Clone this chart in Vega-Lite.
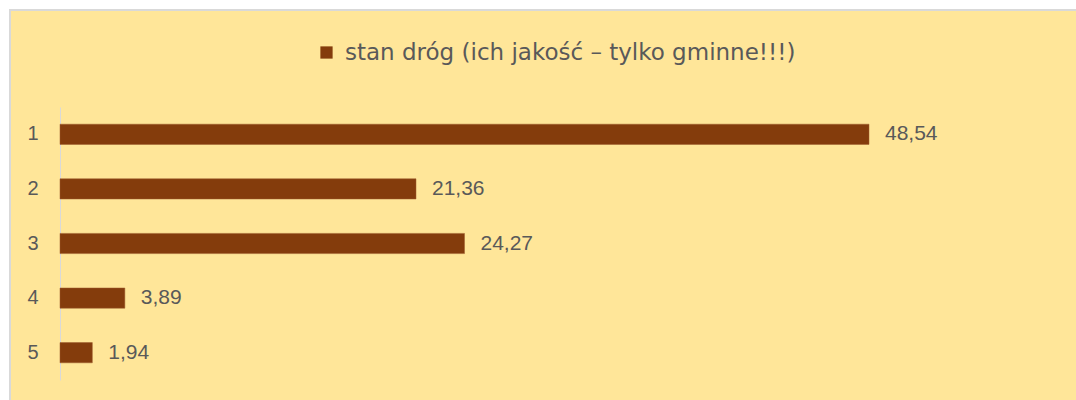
{
  "$schema": "https://vega.github.io/schema/vega-lite/v6.json",
  "width": 1070,
  "height": 395,
  "autosize": {"type": "none"},
  "padding": {"left": 10, "top": 10, "right": 0, "bottom": 0},
  "background": "#ffffff",
  "config": {
    "locale": {"number": {"decimal": ",", "thousands": " ", "grouping": [3], "currency": ["", " zł"]}},
    "view": {"fill": "#FFE699", "stroke": "#D9D9D9", "strokeWidth": 2},
    "font": "Liberation Sans"
  },
  "data": {
    "values": [
      {"kat": "1", "wartosc": 48.54, "seria": "stan dróg (ich jakość – tylko gminne!!!)"},
      {"kat": "2", "wartosc": 21.36, "seria": "stan dróg (ich jakość – tylko gminne!!!)"},
      {"kat": "3", "wartosc": 24.27, "seria": "stan dróg (ich jakość – tylko gminne!!!)"},
      {"kat": "4", "wartosc": 3.89, "seria": "stan dróg (ich jakość – tylko gminne!!!)"},
      {"kat": "5", "wartosc": 1.94, "seria": "stan dróg (ich jakość – tylko gminne!!!)"}
    ]
  },
  "encoding": {
    "y": {
      "field": "kat",
      "type": "nominal",
      "sort": null,
      "scale": {"range": [97, 370], "paddingInner": 0.63, "paddingOuter": 0.315},
      "axis": {
        "title": null,
        "offset": -50,
        "ticks": false,
        "domainColor": "#D9D9D9",
        "domainWidth": 1,
        "labelPadding": 22,
        "labelFontSize": 20,
        "labelColor": "#595959",
        "labelFont": "Liberation Sans"
      }
    },
    "x": {
      "field": "wartosc",
      "type": "quantitative",
      "scale": {"domain": [0, 60], "range": [50, 1050], "zero": true, "nice": false},
      "axis": null
    }
  },
  "layer": [
    {
      "mark": {"type": "bar", "stroke": "#9C5A2E", "strokeWidth": 0.5},
      "encoding": {
        "color": {
          "field": "seria",
          "type": "nominal",
          "scale": {"range": ["#843C0C"]},
          "legend": {
            "title": null,
            "orient": "none",
            "legendX": 305,
            "legendY": 31,
            "symbolType": "square",
            "symbolSize": 150,
            "symbolStrokeWidth": 0,
            "labelFontSize": 23,
            "labelColor": "#595959",
            "labelFont": "DejaVu Sans",
            "labelLimit": 800,
            "labelOffset": 7
          }
        }
      }
    },
    {
      "mark": {"type": "text", "align": "left", "baseline": "middle", "dx": 16, "fontSize": 21, "color": "#595959", "font": "Liberation Sans"},
      "encoding": {
        "text": {"field": "wartosc", "type": "quantitative", "format": ".2f"}
      }
    }
  ]
}
